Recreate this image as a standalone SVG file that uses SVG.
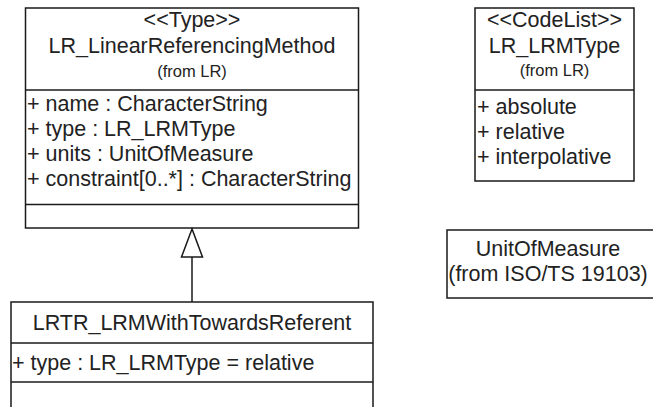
<svg xmlns="http://www.w3.org/2000/svg" width="653" height="407" viewBox="0 0 653 407">
<style>
.box{fill:#fff;stroke:#1a1a1a;stroke-width:1.5}
.sep{stroke:#1a1a1a;stroke-width:1.5}
text{font-family:"Liberation Sans",Arial,sans-serif;font-size:21.5px;fill:#222}
.c{text-anchor:middle}
.s{font-size:16.5px}
.edge{stroke:#1a1a1a;stroke-width:1.5;fill:none}
.head{fill:#fff;stroke:#1a1a1a;stroke-width:1.5}
</style>
<rect width="653" height="407" fill="#fff"/>
<g id="LR_LinearReferencingMethod">
<rect class="box" x="25.5" y="8" width="333" height="220"/>
<line class="sep" x1="25.5" y1="90" x2="358.5" y2="90"/>
<line class="sep" x1="25.5" y1="204.5" x2="358.5" y2="204.5"/>
<text class="c" x="192" y="27">&lt;&lt;Type&gt;&gt;</text>
<text class="c" x="192" y="53">LR_LinearReferencingMethod</text>
<text class="c s" x="192" y="77">(from LR)</text>
<text x="27" y="111">+ name : CharacterString</text>
<text x="27" y="136">+ type : LR_LRMType</text>
<text x="27" y="161">+ units : UnitOfMeasure</text>
<text x="27" y="186">+ constraint[0..*] : CharacterString</text>
</g>
<g id="LR_LRMType">
<rect class="box" x="475" y="8" width="159" height="173"/>
<line class="sep" x1="475" y1="90" x2="634" y2="90"/>
<text class="c" x="554.5" y="27">&lt;&lt;CodeList&gt;&gt;</text>
<text class="c" x="554.5" y="53">LR_LRMType</text>
<text class="c s" x="554.5" y="76">(from LR)</text>
<text x="477" y="114">+ absolute</text>
<text x="477" y="139">+ relative</text>
<text x="477" y="164">+ interpolative</text>
</g>
<g id="UnitOfMeasure">
<rect class="box" x="447" y="230" width="215" height="68"/>
<text class="c" x="548" y="256">UnitOfMeasure</text>
<text class="c" x="548" y="281">(from ISO/TS 19103)</text>
</g>
<g id="LRTR_LRMWithTowardsReferent">
<rect class="box" x="11" y="302" width="362" height="120"/>
<line class="sep" x1="11" y1="343" x2="373" y2="343"/>
<line class="sep" x1="11" y1="382" x2="373" y2="382"/>
<text class="c" x="192" y="330">LRTR_LRMWithTowardsReferent</text>
<text x="12" y="370">+ type : LR_LRMType = relative</text>
</g>
<g id="connectors">
<line class="edge" x1="192" y1="302" x2="192" y2="257"/>
<polygon class="head" points="192,229 181.5,257 202.5,257"/>
</g>
</svg>
